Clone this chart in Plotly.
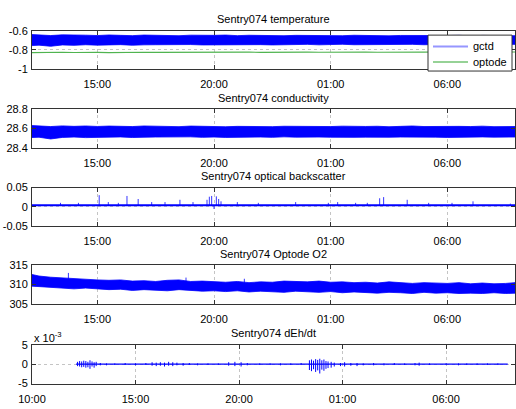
import pandas as pd
import plotly.graph_objects as go

# ---------------- data (hours since midnight of day 1; >24 = next day) ----------------
HOURS = [12.2, 12.5, 13.0, 13.5, 14.0, 14.5, 15.0, 15.5, 16.0, 16.5, 17.0, 17.5, 18.0, 18.5,
         19.0, 19.5, 20.0, 20.5, 21.0, 21.5, 22.0, 22.5, 23.0, 23.5, 24.0, 24.5, 25.0, 25.5,
         26.0, 26.5, 27.0, 27.5, 28.0, 28.5, 29.0, 29.5, 30.0, 30.5, 31.0, 31.5, 32.0, 32.5, 32.9]

temp_gctd_hi = [-0.640, -0.645, -0.650, -0.643, -0.648, -0.646, -0.650, -0.644, -0.648, -0.651,
                -0.645, -0.649, -0.647, -0.652, -0.646, -0.650, -0.648, -0.645, -0.651, -0.647,
                -0.650, -0.646, -0.652, -0.648, -0.650, -0.645, -0.649, -0.652, -0.647, -0.650,
                -0.648, -0.653, -0.649, -0.651, -0.647, -0.652, -0.650, -0.648, -0.653, -0.649,
                -0.651, -0.648, -0.652]
temp_gctd_lo = [-0.755, -0.750, -0.762, -0.748, -0.752, -0.746, -0.750, -0.748, -0.745, -0.751,
                -0.747, -0.746, -0.749, -0.747, -0.744, -0.748, -0.746, -0.748, -0.743, -0.747,
                -0.745, -0.748, -0.744, -0.746, -0.742, -0.747, -0.744, -0.741, -0.746, -0.743,
                -0.745, -0.741, -0.744, -0.742, -0.746, -0.741, -0.743, -0.740, -0.744, -0.742,
                -0.741, -0.744, -0.742]
temp_optode = [-0.828, -0.826, -0.829, -0.825, -0.827, -0.824, -0.826, -0.828, -0.825, -0.827,
               -0.824, -0.826, -0.825, -0.827, -0.823, -0.826, -0.824, -0.826, -0.825, -0.823,
               -0.826, -0.824, -0.822, -0.825, -0.823, -0.824, -0.822, -0.825, -0.823, -0.821,
               -0.824, -0.822, -0.823, -0.821, -0.823, -0.822, -0.820, -0.822, -0.821, -0.823,
               -0.820, -0.822, -0.821]

cond_hi = [28.628, 28.622, 28.618, 28.625, 28.620, 28.624, 28.619, 28.623, 28.621, 28.618,
           28.624, 28.620, 28.622, 28.617, 28.623, 28.619, 28.621, 28.616, 28.620, 28.618,
           28.622, 28.617, 28.621, 28.619, 28.616, 28.620, 28.618, 28.622, 28.617, 28.619,
           28.621, 28.616, 28.620, 28.624, 28.618, 28.621, 28.617, 28.620, 28.618, 28.622,
           28.617, 28.619, 28.618]
cond_lo = [28.505, 28.508, 28.490, 28.506, 28.510, 28.504, 28.509, 28.507, 28.511, 28.505,
           28.508, 28.510, 28.506, 28.509, 28.512, 28.507, 28.510, 28.506, 28.511, 28.508,
           28.510, 28.507, 28.512, 28.509, 28.506, 28.510, 28.508, 28.511, 28.507, 28.509,
           28.512, 28.508, 28.510, 28.507, 28.511, 28.509, 28.506, 28.510, 28.508, 28.511,
           28.509, 28.507, 28.510]

o2_hi = [312.6, 312.2, 311.9, 311.7, 311.6, 311.4, 311.2, 311.1, 311.2, 310.9, 311.0, 310.8,
         311.1, 311.2, 310.8, 310.9, 310.7, 310.6, 310.8, 310.5, 310.7, 310.6, 310.9, 310.8,
         310.7, 310.9, 310.6, 310.7, 310.5, 310.6, 310.4, 310.7, 310.5, 310.3, 310.5, 310.4,
         310.3, 310.5, 310.2, 310.4, 310.2, 310.3, 310.5]
o2_lo = [309.6, 309.5, 309.4, 309.1, 308.9, 309.1, 308.9, 308.7, 308.8, 308.5, 308.7, 308.6,
         308.4, 308.7, 308.5, 308.3, 308.4, 308.2, 308.4, 308.1, 308.3, 308.2, 308.0, 308.3,
         308.1, 308.0, 308.2, 307.9, 308.1, 308.0, 307.8, 308.0, 307.9, 307.7, 308.0, 307.8,
         307.9, 307.7, 307.8, 307.7, 307.9, 307.7, 307.8]
o2_spike_t = [13.76, 18.8, 21.3]
o2_spike_v = [313.0, 311.8, 311.5]

bs_base_t = [12.2, 32.9]
bs_base_v = [0.004, 0.004]
bs_spike_t = [13.42, 14.19, 15.08, 15.47, 15.9, 16.27, 16.75, 17.33, 17.9, 18.54, 19.1,
              19.7, 19.8, 19.9, 20.0, 20.1, 20.2, 20.3, 21.0, 21.9, 23.5, 24.9, 25.3, 26.07,
              26.57, 27.1, 27.27, 28.28, 29.2, 30.2, 31.1, 32.7]
bs_spike_v = [0.010, 0.010, 0.030, 0.012, 0.010, 0.028, 0.020, 0.012, 0.012, 0.018, 0.012,
              0.018, 0.026, 0.028, -0.006, 0.027, 0.020, 0.014, 0.012, 0.010, 0.012, 0.010,
              0.012, 0.010, 0.010, 0.022, 0.025, 0.018, 0.010, 0.010, 0.014, 0.008]

dEh_base_t = [12.13, 32.98]
dEh_base_v = [0.0, 0.0]
dEh_t = [12.2, 12.3, 12.4, 12.5, 12.6, 12.7, 12.8, 12.9, 13.0, 13.1, 13.3, 13.6, 14.0, 14.5,
         15.0, 15.5, 15.8, 16.0, 16.2, 16.4, 16.6, 16.8, 17.0, 17.3, 17.6, 18.0, 18.5, 19.0,
         19.5, 19.8, 20.1, 20.4, 21.0, 21.5, 22.0, 22.5, 23.0, 23.4, 23.5, 23.6, 23.7, 23.8,
         23.9, 24.0, 24.1, 24.2, 24.3, 24.45, 24.6, 24.9, 25.1, 25.4, 25.7, 26.0, 26.5, 27.0,
         27.5, 28.0, 28.5, 28.7, 29.2, 30.0, 30.6, 31.0, 31.5, 32.0, 32.5]
dEh_hi = [0.6, 0.8, 0.7, 0.9, 0.8, 0.6, 1.0, 0.7, 0.5, 0.6, 0.3, 0.2, 0.2, 0.3,
          0.2, 0.3, 0.5, 0.4, 0.5, 0.4, 0.6, 0.5, 0.4, 0.3, 0.3, 0.2, 0.2, 0.2,
          0.5, 0.6, 0.5, 0.3, 0.2, 0.2, 0.2, 0.2, 0.3, 1.0, 1.2, 0.9, 1.3, 1.1,
          1.4, 1.0, 1.2, 0.8, 0.7, 0.6, 0.4, 0.3, 0.5, 0.3, 0.3, 0.2, 0.3, 0.2,
          0.3, 0.2, 0.3, 0.4, 0.2, 0.2, 0.2, 0.2, 0.2, 0.2, 0.2]
dEh_lo = [-0.5, -0.6, -0.8, -0.7, -0.9, -0.8, -1.2, -0.6, -0.9, -0.5, -0.3, -0.3, -0.2, -0.2,
          -0.3, -0.2, -0.4, -0.5, -0.4, -0.6, -0.4, -0.5, -0.3, -0.4, -0.2, -0.3, -0.2, -0.2,
          -0.4, -0.5, -0.6, -0.3, -0.2, -0.2, -0.3, -0.2, -0.2, -1.5, -1.8, -1.3, -2.0, -1.6,
          -2.4, -1.4, -1.7, -1.2, -1.0, -0.9, -0.6, -0.5, -0.6, -0.4, -0.5, -0.3, -0.3, -0.3,
          -0.2, -0.2, -0.3, -0.4, -0.2, -0.2, -0.3, -0.2, -0.2, -0.2, -0.2]

TICK_HOURS = [15, 20, 25, 30]
TICK_HOURS_5 = [10, 15, 20, 25, 30]
TICK_TEXT = ["15:00", "20:00", "01:00", "06:00"]
TICK_TEXT_5 = ["10:00", "15:00", "20:00", "01:00", "06:00"]
TITLES = ["Sentry074 temperature", "Sentry074 conductivity", "Sentry074 optical backscatter",
          "Sentry074 Optode O2", "Sentry074 dEh/dt"]
LEGEND_NAMES = ["gctd", "optode"]

# ---------------- helpers ----------------
BASE = pd.Timestamp("2013-01-01")


def dt(hours):
    return [None if h is None else BASE + pd.Timedelta(hours=h) for h in hours]


BLUE = "#0000ff"
GREEN = "rgb(80,180,80)"
W, H = 516, 409
ML, MR = 32, 1
PW = W - ML - MR
FONT = "Liberation Sans, Arial, sans-serif"
AXC = "#333333"

# panel pixel extents (top, bottom)
PANELS = [(25.5, 65), (106, 146), (187, 226.5), (267, 307), (349, 389)]
TITLE_Y = [13.3, 94.3, 175, 256, 337.3]
YRANGES = [[-1, -0.6], [28.4, 28.8], [-0.05, 0.05], [305, 315], [-5, 5]]
YTICKS = [[-1, -0.8, -0.6], [28.4, 28.6, 28.8], [-0.05, 0, 0.05], [305, 310, 315], [-5, 0, 5]]
YTICKTEXT = [["-1", "-0.8", "-0.6"], ["28.4", "28.6", "28.8"], ["-0.05", "0", "0.05"],
             ["305", "310", "315"], ["-5", "0", "5"]]


def px(x):
    return (x - ML) / PW


def py(y):
    return 1 - y / H


fig = go.Figure()


def band(idx, t, hi, lo):
    ax = "" if idx == 1 else str(idx)
    fig.add_trace(go.Scatter(
        x=dt(t + t[::-1]), y=hi + lo[::-1], mode="lines", fill="toself",
        fillcolor=BLUE, line=dict(color=BLUE, width=0.8), showlegend=False,
        hoverinfo="skip", xaxis="x" + ax, yaxis="y" + ax))


def spikes(idx, t, top, bottom, width=1.0):
    ax = "" if idx == 1 else str(idx)
    xs, ys = [], []
    for ti, a, b in zip(t, top, bottom):
        xs += [ti, ti, None]
        ys += [a, b, None]
    fig.add_trace(go.Scatter(x=dt(xs), y=ys, mode="lines", connectgaps=False,
                             line=dict(color=BLUE, width=width), showlegend=False,
                             xaxis="x" + ax, yaxis="y" + ax))


# panel 1
band(1, HOURS, temp_gctd_hi, temp_gctd_lo)
fig.add_trace(go.Scatter(x=dt(HOURS), y=temp_optode, mode="lines",
                         line=dict(color=GREEN, width=1.1), showlegend=False,
                         xaxis="x", yaxis="y"))

# panel 2
band(2, HOURS, cond_hi, cond_lo)

# panel 3
fig.add_trace(go.Scatter(x=dt(bs_base_t), y=bs_base_v, mode="lines",
                         line=dict(color=BLUE, width=2.0), showlegend=False,
                         xaxis="x3", yaxis="y3"))
spikes(3, bs_spike_t, bs_spike_v, [bs_base_v[0]] * len(bs_spike_t), width=0.8)

# panel 4
band(4, HOURS, o2_hi, o2_lo)
spikes(4, o2_spike_t, o2_spike_v, [310.0] * len(o2_spike_t), width=0.8)

# panel 5
fig.add_trace(go.Scatter(x=dt(dEh_base_t), y=dEh_base_v, mode="lines",
                         line=dict(color=BLUE, width=1.2), showlegend=False,
                         xaxis="x5", yaxis="y5"))
spikes(5, dEh_t, dEh_hi, dEh_lo)

# ---------------- axes ----------------
axis_common = dict(showline=True, linecolor=AXC, linewidth=1, mirror="ticks",
                   ticks="inside", ticklen=4, tickcolor=AXC, showgrid=True,
                   gridcolor="#c4c4c4", griddash="dot", gridwidth=1, zeroline=False,
                   tickfont=dict(family=FONT, size=11, color="black"))

layout = {}
for i in range(5):
    top, bot = PANELS[i]
    ax = "" if i == 0 else str(i + 1)
    if i < 4:
        xr, tv, tt = dt([12.2, 32.9]), dt(TICK_HOURS), TICK_TEXT
    else:
        xr, tv, tt = dt([10.0, 33.33]), dt(TICK_HOURS_5), TICK_TEXT_5
    layout["xaxis" + ax] = dict(axis_common, domain=[0, 1], range=xr, tickvals=tv, ticktext=tt,
                                anchor="y" + ax, type="date", ticklabelstandoff=5)
    layout["yaxis" + ax] = dict(axis_common, domain=[py(bot), py(top)], range=YRANGES[i],
                                tickvals=YTICKS[i], ticktext=YTICKTEXT[i], anchor="x" + ax,
                                ticklabelstandoff=1)

annotations = []
for i, title in enumerate(TITLES):
    annotations.append(dict(text=title, xref="paper", yref="paper", x=0.5,
                            y=py(TITLE_Y[i]), xanchor="center", yanchor="middle",
                            showarrow=False, font=dict(family=FONT, size=11, color="black")))
annotations.append(dict(text="x 10<sup>-3</sup>", xref="paper", yref="paper", x=0,
                        y=py(341), xanchor="left", yanchor="middle", showarrow=False,
                        font=dict(family=FONT, size=11, color="black")))

# legend box drawn as shapes + text
LEG_X0, LEG_X1, LEG_Y0, LEG_Y1 = 428, 512, 30, 67
LEG_ROWS = [41.7, 57.7]
LEG_COLORS = ["rgb(150,150,255)", "rgb(150,210,150)"]
shapes = [dict(type="rect", xref="paper", yref="paper", x0=px(LEG_X0), x1=px(LEG_X1),
               y0=py(LEG_Y1), y1=py(LEG_Y0), line=dict(color=AXC, width=1),
               fillcolor="white", layer="above")]
for name, row, col in zip(LEGEND_NAMES, LEG_ROWS, LEG_COLORS):
    shapes.append(dict(type="line", xref="paper", yref="paper", x0=px(433), x1=px(468),
                       y0=py(row), y1=py(row), line=dict(color=col, width=2), layer="above"))
    annotations.append(dict(text=name, xref="paper", yref="paper", x=px(471), y=py(row),
                            xanchor="left", yanchor="middle", showarrow=False,
                            font=dict(family=FONT, size=11, color="black")))

fig.update_layout(
    width=W, height=H, margin=dict(l=ML, r=MR, t=0, b=0),
    paper_bgcolor="white", plot_bgcolor="white", showlegend=False,
    annotations=annotations, shapes=shapes,
    **layout,
)

fig.write_html("out.html", config={"displayModeBar": False},
               post_script="document.body.style.margin='0px';")
